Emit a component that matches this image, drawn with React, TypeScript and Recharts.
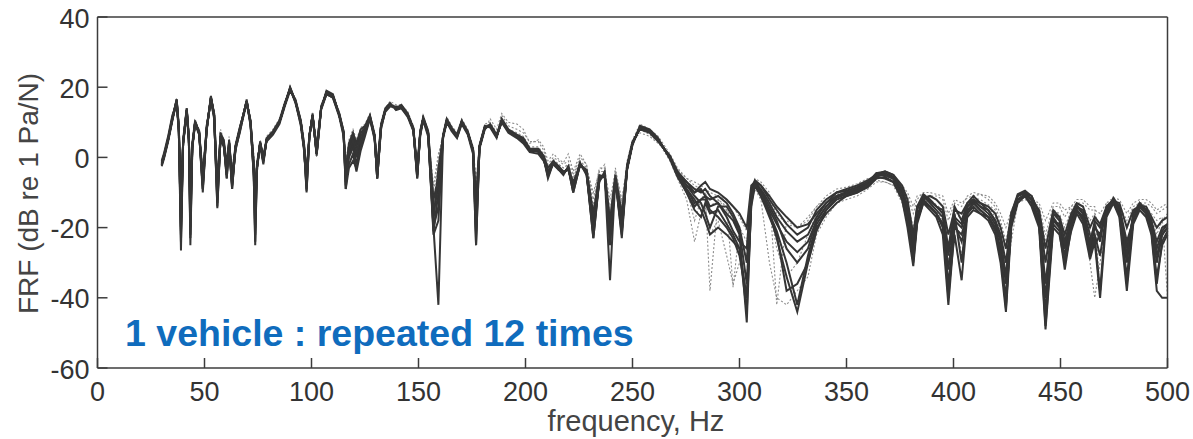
import { LineChart, Line, XAxis, YAxis } from "recharts";

// frequency grid, Hz
const FREQ = [
  30, 31, 33, 35, 37, 38, 39, 40, 41.7, 42.7,
  43.4, 44.3, 45.6, 47.5, 49.2, 51, 53, 54.5, 56, 57.5,
  59, 60.4, 61.5, 62.9, 64.5, 66.5, 69.7, 71.5, 73, 73.7,
  74.5, 76, 77.5, 79, 82, 85, 87.5, 90, 92.5, 95,
  96.5, 97.7, 99, 100.5, 102.4, 104.5, 107, 110, 113, 115,
  116, 117.5, 119.4, 121, 123, 125, 127.3, 129.5, 130.7, 132.5,
  134.5, 136.7, 139.5, 142, 145, 147.6, 149.4, 150.8, 152.2, 154.5,
  157, 159.3, 161.5, 163.2, 165.5, 168, 170.2, 173, 175.5, 176.9,
  178.5, 181, 183.5, 186.5, 188.9, 192, 196, 199, 202, 206,
  208.5, 210.5, 213, 215.5, 217.7, 220, 222.3, 225.5, 228.5, 231.7,
  234.5, 237, 239.5, 242, 245, 247.5, 250, 253.5, 258, 262,
  267.5, 271, 275.3, 279, 282, 284, 286.2, 290, 294, 297,
  300, 303.4, 305.5, 307.2, 310, 314, 317.4, 322, 327, 332,
  336, 340.5, 345.4, 350, 355, 360, 364, 368, 371.9, 376,
  378.5, 381.2, 383, 385.9, 389, 392, 395, 397.6, 400.5, 403.8,
  406.5, 409.3, 412.5, 416.3, 419.5, 422, 424.5, 427, 430, 433.4,
  436.5, 440, 443, 446.6, 449.5, 452, 455, 457.6, 460.5, 463.8,
  466, 468.5, 471.5, 474.7, 477.5, 481, 484, 487, 490, 492.5,
  495, 497.5, 500,
];

// 12 repeated measurements, dB re 1 Pa/N
const RUN1 = [
  -2, 0, 5, 11, 16.5, 8, -26.5, 4, 13.5, 5,
  -25, 3, 10, 7, -9, 8, 17, 12, -14.5, 6,
  4, -6, 4, -9, 3, 8, 16, 10, -5, -25,
  -3, 4, -1, 5, 7, 10, 15, 19.8, 16, 10,
  3, -10, 6, 12, 1, 14, 18.5, 17.5, 12, 7,
  -9, 2, 5, 1, 6, 8, 11.5, 6, -6, 9,
  13.5, 15, 14, 14.5, 12, 8, -6, 7, 11, 7,
  -20, -42, 6, 10.5, 8, 6, 10, 7, 2, -25,
  3, 8.5, 9, 6, 10.5, 7.5, 6, 5, 2, 2,
  0, -5, -1.5, -3, -4.5, -3, -9, -2, -4, -22,
  -6, -5, -35, -6, -21, -3, 4, 8.5, 7.5, 5,
  0, -5, -9, -13, -12, -11, -14, -13, -16, -18,
  -22, -47, -12, -7.5, -10, -15, -19, -24, -27, -24,
  -18, -14, -11, -10, -9.5, -8, -5, -5, -6, -10,
  -16, -30, -18, -12, -14, -16, -19, -40, -18, -20,
  -15, -13, -15, -17, -20, -26, -43, -18, -12, -10.5,
  -12, -18, -48, -18, -19, -28, -19, -15, -17, -26,
  -20, -22, -15, -12, -15, -26, -17, -14, -16, -20,
  -28, -22, -20,
];
const RUN2 = [
  -1.5, 0.5, 5.5, 11.5, 16, 7, -20, 4.5, 13, 5.5,
  -18, 3.5, 9.5, 7.5, -7, 8.5, 16.5, 11, -10, 5,
  3, -4, 5, -7, 2, 7.5, 15.5, 9.5, -3, -18,
  -2, 3.5, -2, 5.5, 7.5, 10.5, 15.5, 19.5, 15.5, 9.5,
  2, -7, 6.5, 11.5, 2, 14.5, 18, 17, 11.5, 6,
  -6, 0, 3, -2, 4, 7, 11, 5, -5, 8.5,
  13, 14.5, 14.5, 14, 11.5, 7.5, -4, 6.5, 10.5, 6,
  -16, -8, 5.5, 10, 7.5, 5.5, 9.5, 6.5, 1, -18,
  2.5, 8, 9.5, 6.5, 10, 7, 5.5, 4, 1.5, 1,
  -1, -4, -2, -3.5, -5, -2.5, -8, -1.5, -5, -20,
  -7, -4, -22, -7, -18, -2, 4.5, 8, 7, 4.5,
  0.5, -4, -8, -10, -9, -11, -12, -11, -13, -16,
  -20, -30, -10, -7, -9, -13, -17, -21, -24, -22,
  -17, -13, -10, -9.5, -8.5, -7, -5.5, -4.5, -5.5, -9,
  -14, -28, -17, -11, -13, -15, -17, -32, -17, -19,
  -14, -12.5, -14, -16, -19, -24, -36, -17, -12, -11,
  -13, -17, -40, -17, -20, -26, -18, -14, -16, -24,
  -19, -24, -14, -12, -16, -30, -16, -13.5, -15, -19,
  -26, -21, -19,
];
const RUN3 = [
  -2.5, -0.5, 4.5, 10.5, 16, 8.5, -15, 3.5, 13, 4,
  -14, 2.5, 9.5, 6.5, -6, 7.5, 17, 12.5, -8, 6.5,
  5, -2, 4.5, -5, 3.5, 8.5, 15.5, 10.5, -2, -14,
  -4, 4.5, 0, 4.5, 6.5, 9.5, 14.5, 19, 16.5, 10.5,
  4, -5, 5.5, 12.5, 0.5, 13.5, 18, 17.5, 12.5, 7.5,
  -4, 4, 7, 4, 8, 9, 12, 6.5, -3, 9.5,
  14, 15.5, 13.5, 14, 12, 8.5, -3, 7.5, 11.5, 7.5,
  -12, -6, 6.5, 11, 8.5, 6.5, 10.5, 7.5, 2.5, -14,
  3.5, 9, 8.5, 5.5, 11, 8, 6.5, 5.5, 2.5, 2.5,
  0.5, -3, -1, -2.5, -4, -3.5, -7, -2.5, -3.5, -16,
  -5, -5.5, -20, -5, -16, -3.5, 3.5, 9, 8, 5.5,
  -0.5, -5.5, -10, -15, -17, -13, -16, -15, -19, -22,
  -26, -40, -14, -8, -11, -16, -21, -30, -42, -28,
  -19, -15, -12, -11, -10, -8.5, -6, -5.5, -7, -12,
  -20, -31, -19, -13, -15, -17, -22, -42, -20, -22,
  -16, -14, -16, -18, -22, -30, -44, -20, -13, -11,
  -14, -20, -49, -20, -22, -30, -21, -16, -19, -29,
  -24, -40, -17, -13, -17, -38, -19, -15, -17, -22,
  -38, -40, -40,
];
const RUN4 = [
  -1, 1, 6, 12, 15.5, 7.5, -22, 5, 14, 6,
  -20, 4, 10.5, 7, -8, 9, 16, 11.5, -12, 5.5,
  3.5, -5, 3, -8, 2.5, 7, 16.5, 9, -4, -22,
  -2.5, 4, -1.5, 5, 7, 10, 15, 20, 16, 9,
  2.5, -8, 6, 12, 1.5, 14, 19, 18, 12, 6.5,
  -7, -2, 1, -4, 2, 6, 11, 5.5, -6, 8,
  13.5, 15, 14, 15, 12.5, 8, -5, 6, 11, 6.5,
  -21, -10, 6, 10, 8, 6, 10, 7, 1.5, -21,
  3, 8.5, 9, 6, 10, 7.5, 6, 4.5, 2, 1.5,
  -0.5, -5.5, -1.5, -3.5, -4.5, -3, -10, -2, -4.5, -23,
  -6.5, -5, -24, -6.5, -22, -3, 4, 8.5, 7.5, 5,
  0, -4.5, -8, -11, -13, -16, -20, -14, -14, -17,
  -21, -36, -11, -7, -9.5, -14, -18, -26, -30, -26,
  -18, -14, -11, -10, -9, -7.5, -4.5, -5, -6, -10,
  -15, -26, -15, -11, -12.5, -14, -16, -28, -16, -30,
  -14, -12, -14, -15, -18, -22, -30, -18, -11, -10,
  -11, -16, -30, -16, -18, -24, -17, -14, -15, -22,
  -25, -22, -16, -11.5, -14, -24, -18, -13, -15, -18,
  -24, -20, -19,
];
const RUN5 = [
  -2, 0, 5, 11, 16, 8, -12, 4, 13.5, 5,
  -10, 3, 10, 7, -5, 8, 17.5, 12, -7, 6,
  4, -3, 4, -6, 3, 8, 16, 10, -1, -10,
  -3, 4, 0.5, 5, 7, 10, 15, 19.5, 16, 10,
  3, -4, 6, 12, 3, 14, 18.5, 17.5, 12, 7,
  -3, 3, 6, 3, 7, 8.5, 11.5, 6, -4, 9,
  13.5, 15, 14, 14.5, 12, 8, -4, 7, 11, 7,
  -18, -3, 6, 10.5, 8, 6, 10, 7, 2, -12,
  3, 8.5, 9, 6, 10.5, 7.5, 6, 5, 2, 2,
  0, -4, -1.5, -3, -4.5, -3, -8.5, -2, -4, -19,
  -6, -5, -18, -6, -20, -3, 4, 8.5, 7.5, 5,
  0, -4.5, -7, -9, -10, -9, -11, -13, -17, -21,
  -24, -26, -9, -6.5, -8, -12, -15, -19, -22, -20,
  -15, -12, -10, -9, -8, -6.5, -5, -4, -5, -8,
  -12, -22, -14, -12, -11, -12, -14, -22, -15, -16,
  -13, -12, -13, -14, -16, -20, -26, -16, -11, -10,
  -12, -15, -26, -15, -17, -22, -16, -13, -14, -20,
  -17, -19, -14, -12.5, -13, -20, -15, -14, -14, -17,
  -20, -18, -17,
];
const RUN6 = [
  -1.5, 0.5, 5, 11, 16.5, 9, -18, 4, 14, 5,
  -16, 3, 10, 7.5, -8, 8, 17, 12.5, -11, 7,
  4.5, -4, 4, -7.5, 3, 8, 16, 10.5, -3, -16,
  -3, 4.5, -1, 5, 7, 10, 15, 19.5, 16, 10,
  3, -6, 6, 12, 1, 14, 18, 17, 12, 7,
  -5, 1, 4, 0, 5, 7.5, 11.5, 6, -5, 9,
  13.5, 15, 14, 14.5, 12, 8, -5, 7, 11, 7,
  -14, -12, 6, 10.5, 8, 6, 10, 7, 2, -16,
  3, 8.5, 9, 6, 10.5, 7.5, 6, 5, 2, 2,
  0, -5, -1.5, -3, -4.5, -3, -9, -2, -4, -18,
  -6, -5, -20, -6, -19, -3, 4, 8.5, 7.5, 5,
  0, -5, -9, -12, -15, -18, -22, -20, -22, -24,
  -26, -44, -13, -8, -11, -17, -22, -38, -36, -30,
  -20, -16, -13, -11, -10, -8, -5.5, -6, -7, -12,
  -18, -28, -18, -13, -14, -16, -20, -36, -19, -24,
  -17, -15, -16, -17, -20, -27, -40, -19, -12, -11,
  -13, -19, -44, -19, -21, -32, -20, -15, -18, -27,
  -22, -28, -16, -13, -16, -34, -18, -14, -16, -21,
  -34, -25, -22,
];
const RUN7 = [
  -2, 0, 5, 11, 16, 8, -21, 4, 13.5, 5,
  -22, 3, 10, 7, -10, 8, 17, 12, -13, 6,
  4, -5, 4, -8, 3, 8, 16, 10, -4, -20,
  -3, 4, -1, 5, 7, 10, 15, 19.5, 16, 10,
  3, -9, 6, 12, 1, 14, 18.5, 17.5, 12, 7,
  -8, 2, 5, 1, 6, 8, 11.5, 6, -6, 9,
  13.5, 15, 14, 14.5, 12, 8, -5.5, 7, 11, 7,
  -20, -14, 6, 10.5, 8, 6, 10, 7, 2, -22,
  3, 8.5, 9, 6, 10.5, 7.5, 6, 5, 2, 2,
  0, -5, -1.5, -3, -4.5, -3, -9, -2, -4, -21,
  -6, -5, -23, -6, -21, -3, 4, 8.5, 7.5, 5,
  0, -4, -7, -10, -8, -7, -9, -10, -12, -14,
  -16, -20, -8, -7, -8, -11, -14, -17, -20, -19,
  -16, -13, -11, -10, -9, -7, -4.5, -4, -5, -9,
  -14, -24, -14, -10.5, -12, -14, -15, -26, -14, -18,
  -13, -11, -13, -15, -18, -23, -34, -16, -10.5, -9.5,
  -11, -16, -36, -16, -17, -25, -17, -13.5, -16, -25,
  -18, -20, -15, -12, -14, -28, -16, -13, -15, -19,
  -30, -22, -20,
];
const RUN8 = [
  -2, 0, 5, 11, 16.5, 8, -24, 4, 13.5, 5,
  -23, 3, 10, 7, -9, 8, 17, 12, -14, 6,
  4, -6, 4, -9, 3, 8, 16, 10, -5, -24,
  -3, 4, -1, 5, 7, 10, 15, 19.8, 16, 10,
  3, -9.5, 6, 12, 1, 14, 18.5, 17.5, 12, 7,
  -9, -3, -1, -3, 3, 7, 11.5, 6, -6, 9,
  13.5, 15, 14, 14.5, 12, 8, -6, 7, 11, 7,
  -22, -18, 6, 10.5, 8, 6, 10, 7, 2, -25,
  3, 8.5, 9, 6, 10.5, 7.5, 6, 5, 2, 2,
  0, -6, -1.5, -3, -4.5, -3, -10, -2, -4, -23,
  -6, -5, -25, -6, -23, -3, 4, 8.5, 7.5, 5,
  0, -5, -10, -14, -12, -12, -15, -17, -20, -23,
  -28, -40, -12, -7.5, -10, -16, -23, -34, -44, -30,
  -21, -15, -11.5, -10.5, -9.5, -8, -5, -5, -6, -11,
  -17, -29, -18, -12.5, -14, -16, -19, -38, -22, -35,
  -16, -13, -15, -17, -21, -28, -42, -18, -12, -10.5,
  -12, -18, -46, -18, -20, -30, -19, -15, -17, -28,
  -23, -38, -15, -12, -15, -36, -17, -14, -16, -21,
  -36, -24, -21,
];
const RUN9 = [
  -1.5, 0.5, 5.5, 11.5, 17, 9, -10, 5, 14, 6,
  -8, 4, 10.5, 8, -4, 9, 17.5, 13, -6, 8,
  5, -1, 6, -4, 4, 9, 16, 11, 0, -8,
  -1, 5, 1, 6, 8, 11, 15.5, 19.5, 16.5, 11,
  5, -3, 7, 13, 4, 15, 19, 18, 13, 8,
  -2, 5, 8, 5, 8.5, 9.5, 12.5, 7, -2, 10,
  14, 16, 15, 15, 13, 9, -2, 8, 12, 8,
  -10, 0, 7, 11.5, 9, 7, 11, 8, 3, -8,
  4, 9.5, 10, 7, 12, 9, 8, 7, 4.5, 4.5,
  2, -2, 0, -1, -2, -1, -5, 0, -2, -12,
  -3, -3, -15, -4, -14, -1, 5, 9.5, 8, 6,
  1, -3, -6, -8, -9, -10, -38, -12, -14, -37,
  -20, -24, -9, -6, -7, -10, -42, -18, -20, -18,
  -14, -11, -9, -8.5, -7.5, -6, -6.5, -7, -8, -9,
  -11, -16, -12, -10, -10, -10.5, -11, -16, -12, -13,
  -11.5, -11, -10.5, -11, -13, -16, -20, -15, -12, -11,
  -12, -13, -18, -13, -13, -15, -14, -12, -12, -14,
  -14, -40, -13, -11.5, -12, -16, -13, -12, -12, -13,
  -15, -14, -13,
];
const RUN10 = [
  -2.5, -0.5, 4.5, 10.5, 15.5, 7.5, -14, 3.5, 12.5, 4.5,
  -12, 2.5, 9, 6, -6, 7, 16.5, 11.5, -9, 5,
  3, -3, 3.5, -6, 2, 7, 15, 9, -2, -12,
  -2, 3, -0.5, 4.5, 6.5, 9.5, 14.5, 19, 15.5, 9.5,
  2, -6, 5.5, 11.5, 0, 13.5, 18, 17, 11.5, 6,
  -4, 0, 2, -1, 3, 7, 12, 5.5, -4, 8.5,
  13, 14.5, 13.5, 14, 11.5, 7.5, -4, 6.5, 10.5, 6.5,
  -15, -6, 5.5, 10, 7.5, 5.5, 9.5, 6.5, 1.5, -15,
  2.5, 8, 11, 8, 12.5, 10, 9.5, 8, 4, 5,
  3, -1, 1, -0.5, -1.5, 1, -4, 1, -2, -14,
  -4, -2, -17, -3, -13, -2, 3.5, 8, 6.5, 4.5,
  -1, -6, -12, -24, -16, -14, -22, -18, -28, -36,
  -30, -34, -13, -9, -12, -30, -40, -42, -38, -34,
  -22, -17, -13, -12, -11, -9, -7, -7, -8, -13,
  -19, -24, -16, -12, -13, -15, -18, -30, -16, -28,
  -16, -12, -13, -14, -17, -21, -34, -24, -13, -12,
  -13, -19, -36, -17, -19, -26, -20, -14, -15, -30,
  -40, -30, -17, -13, -15, -26, -16, -13, -14, -17,
  -22, -18, -16,
];
const RUN11 = [
  -1.5, 0, 5, 11.5, 16, 8, -16, 4.5, 13, 5,
  -15, 3.5, 10, 7.5, -7, 8.5, 16.5, 12.5, -10, 7,
  5, -3, 5, -5, 3.5, 8.5, 16, 10, -2.5, -14,
  -2, 4.5, 0.5, 5.5, 7.5, 10.5, 15, 19.5, 16, 10,
  3.5, -5, 6.5, 12.5, 2.5, 14.5, 18.5, 18, 12.5, 7.5,
  -3, 3.5, 6.5, 2, 6.5, 8, 11.5, 6.5, -3, 9.5,
  14, 15.5, 14.5, 15, 12.5, 9, -3.5, 7.5, 11.5, 8,
  -13, -2, 6.5, 11, 8.5, 6.5, 10.5, 7.5, 2.5, -12,
  3.5, 9, 9.5, 7, 11, 8, 7, 6, 3, 3,
  1, -3, -0.5, -2, -3, -2, -6, -1, -3, -14,
  -4, -4, -16, -5, -15, -2, 4.5, 7, 6, 4,
  0.5, -3.5, -6, -7, -8, -9, -10, -11, -12, -14,
  -17, -21, -10, -8, -9, -12, -16, -19, -20, -17,
  -14, -12, -10, -9.5, -8.5, -7, -6, -6, -7, -8,
  -10, -14, -11, -10.5, -11, -11, -12, -18, -13, -14,
  -11, -10, -10.5, -12, -14, -18, -24, -16, -12, -11.5,
  -12, -14, -22, -14, -14, -17, -14, -13, -13, -15,
  -15, -16, -13, -13, -13.5, -18, -14, -13, -13, -14,
  -16, -15, -14,
];
const RUN12 = [
  -2, 0, 5, 11, 16, 8, -8, 4, 13, 5,
  -9, 3, 10, 7, -3, 8, 17, 12, -5, 6,
  4, -2, 4, -3, 3, 8, 16, 10, 1, -6,
  -2, 4, 0, 5, 7, 10, 15, 19.5, 16, 10,
  3, -2, 6, 12, 4, 14, 18.5, 17.5, 12, 7,
  -1, 4, 7, 4.5, 7.5, 9, 12, 6.5, -2, 9,
  13.5, 15, 14, 14.5, 12, 8, -2, 7, 11, 7,
  -8, 1, 6, 10.5, 8, 6, 10, 7, 2.5, -6,
  3, 8.5, 9, 6, 10.5, 7.5, 6, 5, 2, 2,
  0, -3, -1, -2, -3, -2, -6, -1, -3, -10,
  -4, -4, -12, -4, -12, -2, 4, 8.5, 7.5, 5,
  0, -4, -9, -18, -12, -10, -14, -12, -15, -18,
  -22, -28, -11, -8, -10, -14, -26, -34, -30, -22,
  -16, -13, -10.5, -9.5, -9, -7, -5, -5, -6.5, -10,
  -13, -20, -14, -11.5, -12, -13.5, -15, -22, -15, -18,
  -13, -11.5, -12, -13.5, -15, -19, -26, -17, -11, -10,
  -11.5, -15, -24, -15, -16, -20, -15, -13, -14, -18,
  -16, -20, -14, -12, -13, -20, -15, -13, -14, -16,
  -18, -17, -40,
];

const DARK_RUNS = [RUN1, RUN2, RUN3, RUN4, RUN5, RUN6, RUN7, RUN8];
const LIGHT_RUNS = [RUN9, RUN10, RUN11, RUN12];

const X_TICKS = [0, 50, 100, 150, 200, 250, 300, 350, 400, 450, 500];
const Y_TICKS = [-60, -40, -20, 0, 20, 40];

const ALL_RUNS = [...LIGHT_RUNS, ...DARK_RUNS];
const data = FREQ.map((f, i) => {
  const row: Record<string, number> = { f };
  ALL_RUNS.forEach((run, k) => {
    row[`r${k}`] = run[i];
  });
  return row;
});

const FONT = "'Liberation Sans', Arial, Helvetica, sans-serif";
const AXIS_COLOR = "#3c3c3c";

export default function App() {
  return (
    <div style={{ position: "absolute", left: 0, top: 0, width: 1193, height: 439, background: "#fff" }}>
      <LineChart width={1193} height={439} data={data} margin={{ top: 0, right: 0, bottom: 0, left: 0 }}>
        <XAxis
          xAxisId="b"
          dataKey="f"
          type="number"
          domain={[0, 500]}
          ticks={X_TICKS}
          interval={0}
          height={71}
          tickSize={-10}
          tickMargin={24}
          stroke={AXIS_COLOR}
          strokeWidth={1.5}
          tick={{ fill: "#333", fontSize: 27, fontFamily: FONT }}
        />
        <XAxis
          xAxisId="t"
          orientation="top"
          dataKey="f"
          type="number"
          domain={[0, 500]}
          ticks={X_TICKS}
          interval={0}
          height={17}
          tickSize={-10}
          tick={false}
          stroke={AXIS_COLOR}
          strokeWidth={1.5}
        />
        <YAxis
          yAxisId="l"
          type="number"
          domain={[-60, 40]}
          ticks={Y_TICKS}
          interval={0}
          width={97.5}
          tickSize={-10}
          tickMargin={18}
          stroke={AXIS_COLOR}
          strokeWidth={1.5}
          tick={{ fill: "#333", fontSize: 27, fontFamily: FONT, dy: 1 }}
        />
        <YAxis
          yAxisId="r"
          orientation="right"
          type="number"
          domain={[-60, 40]}
          ticks={Y_TICKS}
          interval={0}
          width={25.5}
          tickSize={-10}
          tick={false}
          stroke={AXIS_COLOR}
          strokeWidth={1.5}
        />
        {LIGHT_RUNS.map((_, k) => (
          <Line
            key={`l${k}`}
            xAxisId="b"
            yAxisId="l"
            dataKey={`r${k}`}
            type="linear"
            stroke="#8c8c8c"
            strokeWidth={1.1}
            strokeDasharray="2 2"
            dot={false}
            activeDot={false}
            isAnimationActive={false}
          />
        ))}
        {DARK_RUNS.map((_, k) => (
          <Line
            key={`d${k}`}
            xAxisId="b"
            yAxisId="l"
            dataKey={`r${k + LIGHT_RUNS.length}`}
            type="linear"
            stroke="#353535"
            strokeWidth={2}
            dot={false}
            activeDot={false}
            isAnimationActive={false}
          />
        ))}
      </LineChart>
      <svg
        width={1193}
        height={439}
        style={{ position: "absolute", left: 0, top: 0, pointerEvents: "none" }}
      >
        <text
          transform="translate(38,193.5) rotate(-90)"
          textAnchor="middle"
          fontSize={28}
          fontFamily={FONT}
          fill="#444"
        >
          FRF (dB re 1 Pa/N)
        </text>
        <text x={636} y={431} textAnchor="middle" fontSize={29} fontFamily={FONT} fill="#444">
          frequency, Hz
        </text>
        <text x={125} y={346} fontSize={37.5} fontWeight="bold" fontFamily={FONT} fill="#0f6cbd">
          1 vehicle : repeated 12 times
        </text>
      </svg>
    </div>
  );
}
